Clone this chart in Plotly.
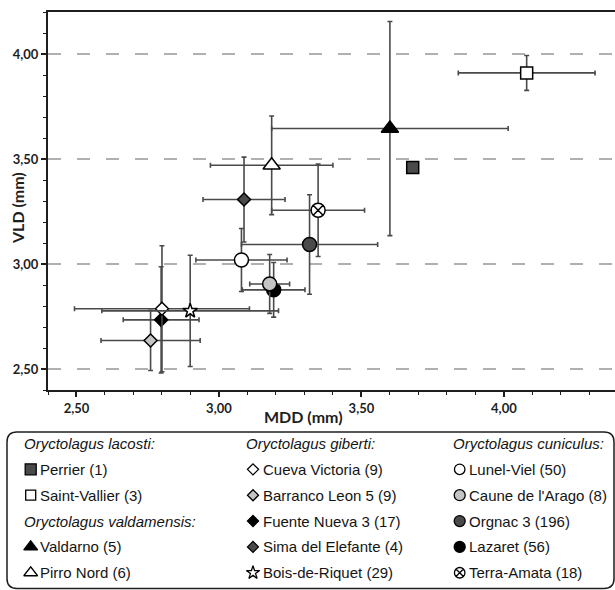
import plotly.graph_objects as go

# ---------------- data ----------------
SITES = ["Perrier (1)", "Saint-Vallier (3)", "Valdarno (5)", "Pirro Nord (6)",
         "Fuente Nueva 3 (17)", "Cueva Victoria (9)", "Barranco Leon 5 (9)",
         "Sima del Elefante (4)", "Bois-de-Riquet (29)",
         "Lunel-Viel (50)", "Lazaret (56)", "Caune de l'Arago (8)",
         "Orgnac 3 (196)", "Terra-Amata (18)"]
MDD = [3.68, 4.08, 3.60, 3.185, 2.797, 2.80, 2.76, 3.088, 2.899,
       3.079, 3.192, 3.178, 3.318, 3.348]
VLD = [3.46, 3.91, 3.645, 3.47, 2.734, 2.787, 2.636, 3.307, 2.777,
       3.019, 2.877, 2.905, 3.093, 3.256]
MDD_SD = [0.0, 0.24, 0.415, 0.215, 0.133, 0.307, 0.174, 0.144, 0.31,
          0.16, 0.11, 0.07, 0.239, 0.163]
VLD_SD = [0.0, 0.083, 0.51, 0.235, 0.253, 0.30, 0.143, 0.202, 0.265,
          0.15, 0.13, 0.14, 0.237, 0.22]

X_TICKS = [2.5, 3.0, 3.5, 4.0]
Y_TICKS = [2.5, 3.0, 3.5, 4.0]

LEGEND_COLUMNS = [
    [("Oryctolagus lacosti:", ["Perrier (1)", "Saint-Vallier (3)"]),
     ("Oryctolagus valdamensis:", ["Valdarno (5)", "Pirro Nord (6)"])],
    [("Oryctolagus giberti:", ["Cueva Victoria (9)", "Barranco Leon 5 (9)",
                               "Fuente Nueva 3 (17)", "Sima del Elefante (4)",
                               "Bois-de-Riquet (29)"])],
    [("Oryctolagus cuniculus:", ["Lunel-Viel (50)", "Caune de l'Arago (8)",
                                 "Orgnac 3 (196)", "Lazaret (56)",
                                 "Terra-Amata (18)"])],
]

# ---------------- styles ----------------
DARK = "#4a4a4a"
LIGHT = "#c4c4c4"
STYLE = {
    "Perrier (1)":           dict(symbol="square", fill=DARK, size=12, lsize=11),
    "Saint-Vallier (3)":     dict(symbol="square", fill="white", size=12, lsize=10),
    "Valdarno (5)":          dict(symbol="triangle-up", fill="black", size=15, lsize=12),
    "Pirro Nord (6)":        dict(symbol="triangle-up", fill="white", size=15, lsize=12),
    "Cueva Victoria (9)":    dict(symbol="diamond", fill="white", size=10, lsize=8.5),
    "Barranco Leon 5 (9)":   dict(symbol="diamond", fill=LIGHT, size=10, lsize=8.5),
    "Fuente Nueva 3 (17)":   dict(symbol="diamond", fill="black", size=10, lsize=8.5),
    "Sima del Elefante (4)": dict(symbol="diamond", fill=DARK, size=10, lsize=8.5),
    "Bois-de-Riquet (29)":   dict(symbol="star", fill="white", size=11, lsize=10),
    "Lunel-Viel (50)":       dict(symbol="circle", fill="white", size=14, lsize=10.5),
    "Caune de l'Arago (8)":  dict(symbol="circle", fill=LIGHT, size=14, lsize=11),
    "Orgnac 3 (196)":        dict(symbol="circle", fill=DARK, size=14, lsize=11),
    "Lazaret (56)":          dict(symbol="circle", fill="black", size=14, lsize=11),
    "Terra-Amata (18)":      dict(symbol="circle-x", fill="white", size=14, lsize=10.5),
}
ERR_COLOR = "#4a4a4a"
AXIS_COLOR = "#1e1e1e"
TICK_FONT = dict(family="Lato, 'Open Sans', sans-serif", size=13, color="#1e1e1e", weight="bold")
LEG_FONT = dict(family="Liberation Sans, Arial, sans-serif", size=15, color="#141414")

W, H = 615, 590

fig = go.Figure()

# ---------------- main scatter with error bars ----------------
for name, x, y, ex, ey in zip(SITES, MDD, VLD, MDD_SD, VLD_SD):
    st = STYLE[name]
    fig.add_trace(go.Scatter(
        x=[x], y=[y], mode="markers", name=name, showlegend=False,
        marker=dict(symbol=st["symbol"], size=st["size"], color=st["fill"],
                    line=dict(color="black", width=1.5)),
        error_x=dict(type="data", array=[ex], visible=ex > 0, color=ERR_COLOR,
                     thickness=1.6, width=2.5),
        error_y=dict(type="data", array=[ey], visible=ey > 0, color=ERR_COLOR,
                     thickness=1.6, width=2.5),
        xaxis="x", yaxis="y",
    ))

# ---------------- custom legend (overlay pixel axes) ----------------
LEG_TOP = 425
COL_X = [22.7, 245.0, 451.7]
ROW0, ROW_STEP = 443.5, 25.85
annotations = []
for ci, groups in enumerate(LEGEND_COLUMNS):
    row = 0
    hx = COL_X[ci]
    for title, members in groups:
        annotations.append(dict(
            x=hx - 1, y=ROW0 + row * ROW_STEP, xref="x2", yref="y2",
            text="<i>" + title + "</i>", showarrow=False,
            xanchor="left", yanchor="middle", font=LEG_FONT))
        row += 1
        for m in members:
            st = STYLE[m]
            ry = ROW0 + row * ROW_STEP
            fig.add_trace(go.Scatter(
                x=[hx + 8], y=[ry], mode="markers", showlegend=False,
                hoverinfo="skip",
                marker=dict(symbol=st["symbol"], size=st["lsize"], color=st["fill"],
                            line=dict(color="black", width=1.3)),
                xaxis="x2", yaxis="y2"))
            annotations.append(dict(
                x=hx + 15.5, y=ry, xref="x2", yref="y2", text=m, showarrow=False,
                xanchor="left", yanchor="middle", font=LEG_FONT))
            row += 1

# axis titles
annotations.append(dict(x=303 / W, y=(H - 416) / H, xref="paper", yref="paper",
                        text="MDD (mm)", showarrow=False, xanchor="center", yanchor="middle",
                        font=dict(family="Lato, sans-serif", size=16, color="#1e1e1e", weight="bold")))
annotations.append(dict(x=17 / W, y=(H - 208) / H, xref="paper", yref="paper",
                        text="VLD (mm)", showarrow=False, textangle=-90,
                        xanchor="center", yanchor="middle",
                        font=dict(family="Lato, sans-serif", size=16, color="#1e1e1e", weight="bold")))

# rounded legend box
x0, x1, y0, y1, r = 7, 614, 432, 588.5, 10
box_path = (f"M {x0 + r},{y0} L {x1 - r},{y0} Q {x1},{y0} {x1},{y0 + r} "
            f"L {x1},{y1 - r} Q {x1},{y1} {x1 - r},{y1} L {x0 + r},{y1} "
            f"Q {x0},{y1} {x0},{y1 - r} L {x0},{y0 + r} Q {x0},{y0} {x0 + r},{y0} Z")

fig.update_layout(
    width=W, height=H, margin=dict(l=0, r=0, t=0, b=0),
    paper_bgcolor="white", plot_bgcolor="rgba(0,0,0,0)",
    separators=",.", showlegend=False,
    xaxis=dict(domain=[48 / W, 1], range=[2.4, 4.39], anchor="y",
               tickmode="array", tickvals=X_TICKS, tickformat=".2f",
               ticks="outside", ticklen=5, tickwidth=1.5, tickcolor=AXIS_COLOR,
               showline=True, linecolor=AXIS_COLOR, linewidth=2, mirror=True,
               showgrid=False, zeroline=False, tickfont=TICK_FONT,
               minor=dict(dtick=0.1, tick0=2.4, ticks="outside", ticklen=3,
                          tickwidth=1.3, tickcolor=AXIS_COLOR, showgrid=False)),
    yaxis=dict(domain=[(H - 390) / H, (H - 12) / H], range=[2.4, 4.2], anchor="x",
               tickmode="array", tickvals=Y_TICKS, tickformat=".2f",
               ticks="outside", ticklen=5, tickwidth=1.5, tickcolor=AXIS_COLOR,
               showline=True, linecolor=AXIS_COLOR, linewidth=2,
               showgrid=True, gridcolor="#b0b0b0", gridwidth=1.5, griddash="13px,16px",
               zeroline=False, tickfont=TICK_FONT,
               minor=dict(dtick=0.1, tick0=2.4, ticks="outside", ticklen=3,
                          tickwidth=1.3, tickcolor=AXIS_COLOR, showgrid=False)),
    xaxis2=dict(domain=[0, 1], range=[0, W], anchor="y2", visible=False, fixedrange=True),
    yaxis2=dict(domain=[0, (H - LEG_TOP) / H], range=[H, LEG_TOP], anchor="x2",
                visible=False, fixedrange=True),
    shapes=[dict(type="path", path=box_path, xref="x2", yref="y2",
                 line=dict(color="#1e1e1e", width=1.5), fillcolor="rgba(0,0,0,0)")],
    annotations=annotations,
)

fig.write_html(
    "out.html",
    config={"displayModeBar": False},
    post_script="document.body.style.margin='0';document.body.style.padding='0';"
                "document.body.style.overflow='hidden';",
)
